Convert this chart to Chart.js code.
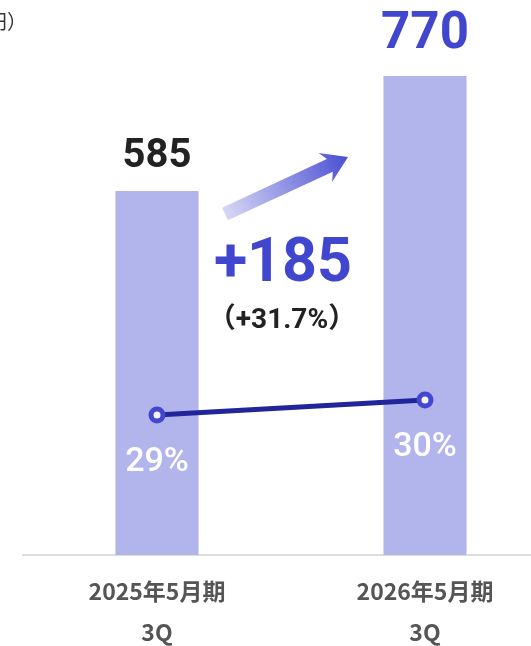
<!DOCTYPE html>
<html>
<head>
<meta charset="utf-8">
<script src="https://cdn.jsdelivr.net/npm/chart.js@4"></script>
<style>
  html, body { margin: 0; padding: 0; background: #fff; overflow: hidden; }
  #wrap { width: 570px; height: 646px; }
</style>
</head>
<body>
<div id="wrap"><canvas id="chart" width="570" height="646"></canvas></div>
<script>
// データ
var categories = [["2025年5月期", "3Q"], ["2026年5月期", "3Q"]];
var sales = [585, 770];
var ratio = [29, 30];
var growthPct = 31.7;
var unitLabel = "（億円）";

var FONT = "Roboto, 'Noto Sans CJK JP', sans-serif";
var CJK = "'Noto Sans CJK JP', sans-serif";
var BLUE = "#4146cf";

// 棒・点の上にラベルや矢印を描く
var annotations = {
  id: "annotations",
  afterDatasetsDraw: function (chart) {
    var ctx = chart.ctx;
    var bars = chart.getDatasetMeta(1).data;
    var pts = chart.getDatasetMeta(0).data;
    ctx.save();
    ctx.textAlign = "center";
    ctx.textBaseline = "middle";

    // 棒の値
    ctx.fillStyle = "#222";
    ctx.font = "bold 40px " + FONT;
    ctx.fillText(String(sales[0]), bars[0].x, bars[0].y - 34);
    ctx.fillStyle = BLUE;
    ctx.font = "bold 51px " + FONT;
    ctx.fillText(String(sales[1]), bars[1].x, bars[1].y - 41);

    // 比率
    ctx.fillStyle = "#fff";
    ctx.font = "500 34px " + FONT;
    for (var i = 0; i < pts.length; i++) {
      ctx.fillText(ratio[i] + "%", pts[i].x, pts[i].y + 47);
    }

    // 増加額
    var mid = (bars[0].x + bars[1].x) / 2;
    var diff = sales[1] - sales[0];
    ctx.fillStyle = BLUE;
    ctx.font = "bold 61px " + FONT;
    ctx.fillText("+" + diff, mid - 8, 266);
    ctx.fillStyle = "#222";
    ctx.font = "bold 28px " + FONT;
    ctx.fillText("（+" + growthPct + "%）", mid - 9, 321);

    // 矢印
    var x0 = mid - 66, y0 = 214, x1 = mid + 57, y1 = 157;
    var ang = Math.atan2(y1 - y0, x1 - x0);
    var len = Math.hypot(x1 - x0, y1 - y0);
    ctx.translate(x0, y0);
    ctx.rotate(ang);
    var g = ctx.createLinearGradient(0, 0, len, 0);
    g.addColorStop(0, "#d6d7f5");
    g.addColorStop(1, "#4a4fd2");
    ctx.fillStyle = g;
    ctx.beginPath();
    ctx.moveTo(0, -7);
    ctx.lineTo(len - 20, -7);
    ctx.lineTo(len - 25, -16);
    ctx.lineTo(len, 0);
    ctx.lineTo(len - 25, 16);
    ctx.lineTo(len - 20, 7);
    ctx.lineTo(0, 7);
    ctx.closePath();
    ctx.fill();
    ctx.restore();

    // 単位
    ctx.save();
    ctx.fillStyle = "#333";
    ctx.font = "20px " + CJK;
    ctx.textAlign = "right";
    ctx.textBaseline = "middle";
    ctx.fillText(unitLabel, 27, 21);
    ctx.restore();
  }
};

var ctx = document.getElementById("chart").getContext("2d");
new Chart(ctx, {
  type: "bar",
  data: {
    labels: categories,
    datasets: [
      {
        type: "line",
        data: ratio,
        yAxisID: "y1",
        order: 0,
        borderColor: "#21259a",
        borderWidth: 5,
        pointRadius: 6,
        pointBorderWidth: 5,
        pointBorderColor: "#4347d0",
        pointBackgroundColor: "#f4f4fb",
        tension: 0,
      },
      {
        type: "bar",
        data: sales,
        yAxisID: "y",
        order: 1,
        backgroundColor: "#b2b4ec",
        categoryPercentage: 1,
        barPercentage: 0.31,
      },
    ],
  },
  options: {
    responsive: false,
    animation: false,
    layout: { padding: { top: 20, left: 23, right: 0, bottom: 0 } },
    plugins: {
      legend: { display: false },
      tooltip: { enabled: false },
    },
    scales: {
      x: {
        grid: { display: false },
        border: { display: true, color: "#dcdcdc", width: 2 },
        ticks: {
          padding: 8,
          color: "#555",
          font: { family: CJK, size: 23, weight: "bold", lineHeight: "41px" },
        },
        afterFit: function (scale) {
          scale.height = 91;
        },
      },
      y: { display: false, min: 0, max: 860 },
      y1: { display: false, min: 19.67, max: 55.33 },
    },
  },
  plugins: [annotations],
});
</script>
</body>
</html>
